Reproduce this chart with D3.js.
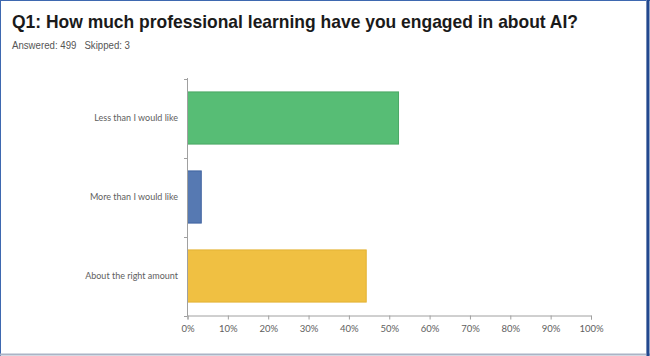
<!DOCTYPE html>
<html><head><meta charset="utf-8">
<script src="https://cdn.jsdelivr.net/npm/d3@7"></script>
<style>body{margin:0;background:#fff}svg{display:block}</style>
</head><body>
<script>
const title = "Q1: How much professional learning have you engaged in about AI?";
const subtitle = "Answered: 499   Skipped: 3";
const categories = ["Less than I would like", "More than I would like", "About the right amount"];
const values = [52.30, 3.41, 44.29];
const colors = ["#57bd75", "#5679b2", "#f0c042"];
const strokes = ["#4aa865", "#3e62a0", "#e3b233"];
const tickValues = [0,10,20,30,40,50,60,70,80,90,100];

const W = 650, H = 356;
const svg = d3.select("body").append("svg").attr("width", W).attr("height", H);

// frame
svg.append("rect").attr("x",0).attr("y",0).attr("width",W).attr("height",H).attr("fill","#fff");
svg.append("line").attr("x1",0.5).attr("x2",0.5).attr("y1",0).attr("y2",H).attr("stroke","#3e68b0").attr("stroke-width",1);
svg.append("line").attr("x1",0).attr("x2",W).attr("y1",0.5).attr("y2",0.5).attr("stroke","#3e68b0").attr("stroke-width",1);
svg.append("line").attr("x1",0).attr("x2",W).attr("y1",354.5).attr("y2",354.5).attr("stroke","#aab4c6").attr("stroke-width",2);
svg.append("line").attr("x1",646.5).attr("x2",646.5).attr("y1",0).attr("y2",H).attr("stroke","#c8d0dc").attr("stroke-width",1);
svg.append("line").attr("x1",648).attr("x2",648).attr("y1",0).attr("y2",H).attr("stroke","#22488f").attr("stroke-width",3);

const t = svg.append("text").attr("x",12).attr("y",28)
  .attr("font-family","Liberation Sans, Arial, sans-serif").attr("font-weight","bold")
  .attr("font-size",19).attr("fill","#1a1a1a").text(title);
t.attr("textLength",566).attr("lengthAdjust","spacingAndGlyphs");

svg.append("text").attr("x",12).attr("y",49)
  .attr("font-family","Liberation Sans, Arial, sans-serif")
  .attr("font-size",10).attr("fill","#555").attr("xml:space","preserve").text(subtitle)
  .attr("textLength",118).attr("lengthAdjust","spacingAndGlyphs");

const x = d3.scaleLinear().domain([0,100]).range([187.5, 591]);
const y = d3.scaleBand().domain(categories).range([78.5, 315.5]).paddingInner(0.34).paddingOuter(0.17);
const yOuter = d3.scaleBand().domain(categories).range([78.5, 315.5]);

const axisColor = "#a0a0a0";
const labelColor = "#606060";
const labelFont = "Lato, 'Open Sans', sans-serif";

// bars
svg.selectAll("rect.bar").data(values).join("rect").attr("class","bar")
  .attr("x", x(0)).attr("y",(d,i)=>y(categories[i]))
  .attr("width", d=>x(d)-x(0)).attr("height", y.bandwidth())
  .attr("fill",(d,i)=>colors[i]).attr("stroke",(d,i)=>strokes[i]).attr("stroke-width",1);

// x axis
const xAxis = svg.append("g").attr("transform",`translate(0,315.5)`)
  .call(d3.axisBottom(x).tickValues(tickValues).tickFormat(d=>d+"%").tickSizeOuter(0).tickSize(4));
xAxis.select(".domain").attr("stroke",axisColor);
xAxis.selectAll(".tick line").attr("stroke",axisColor);
xAxis.selectAll(".tick text").attr("fill",labelColor).attr("font-family",labelFont).attr("font-size",9.5).attr("dy","1.05em");

// y axis
const yAxisG = svg.append("g");
yAxisG.append("line").attr("x1",187.5).attr("x2",187.5).attr("y1",78).attr("y2",316).attr("stroke",axisColor);
const bounds = [78.5].concat(categories.map(c=>yOuter(c)+yOuter.bandwidth()));
yAxisG.selectAll("line.tk").data(bounds).join("line").attr("class","tk")
  .attr("x1",184).attr("x2",187.5).attr("y1",d=>Math.round(d)+0.5).attr("y2",d=>Math.round(d)+0.5).attr("stroke",axisColor);
yAxisG.selectAll("text").data(categories).join("text")
  .attr("x",178).attr("y",d=>yOuter(d)+yOuter.bandwidth()/2).attr("dy","0.35em")
  .attr("text-anchor","end").attr("fill",labelColor).attr("font-family",labelFont).attr("font-size",9).text(d=>d);
</script>
</body></html>
